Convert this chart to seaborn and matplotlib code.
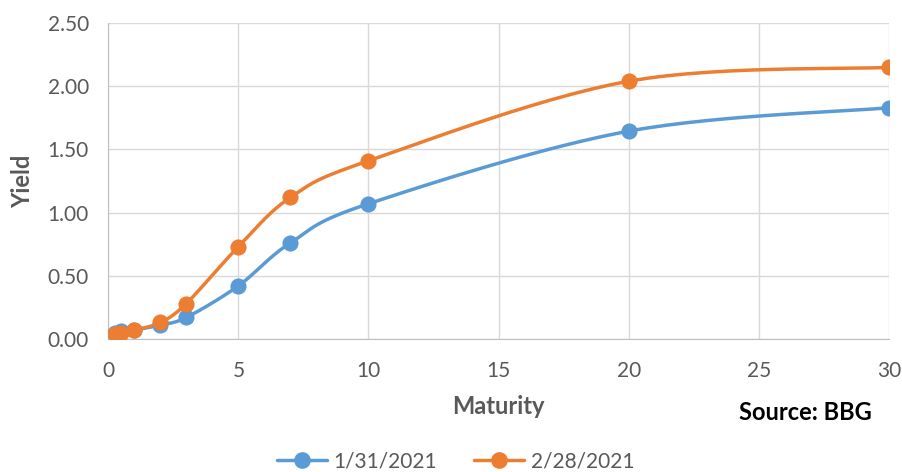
import numpy as np
import pandas as pd
import seaborn as sns
import matplotlib.pyplot as plt
from matplotlib.lines import Line2D

# Datos
maturity = [0.25, 0.5, 1, 2, 3, 5, 7, 10, 20, 30]
yield_jan = [0.05, 0.06, 0.07, 0.11, 0.17, 0.42, 0.76, 1.07, 1.645, 1.83]
yield_feb = [0.04, 0.05, 0.07, 0.13, 0.28, 0.73, 1.12, 1.41, 2.04, 2.15]
labels = ["1/31/2021", "2/28/2021"]
colors = ["#5B9BD5", "#ED7D31"]


def smooth(x, y, n=30):
    # curva suavizada tipo Excel (bezier / catmull-rom)
    p = np.column_stack([x, y]).astype(float)
    p = np.vstack([p[0], p, p[-1]])
    out = []
    t = np.linspace(0, 1, n)[:, None]
    for i in range(1, len(p) - 2):
        p0, p1 = p[i], p[i + 1]
        c1 = p0 + (p[i + 1] - p[i - 1]) / 6
        c2 = p1 - (p[i + 2] - p[i]) / 6
        seg = ((1 - t) ** 3) * p0 + 3 * ((1 - t) ** 2) * t * c1 + 3 * (1 - t) * t ** 2 * c2 + t ** 3 * p1
        out.append(seg)
    out = np.vstack(out)
    return out[:, 0], out[:, 1]


sns.set_style("white")
plt.rcParams["font.family"] = ["Lato", "DejaVu Sans"]

fig = plt.figure(figsize=(9.02, 4.72), dpi=100)
ax = fig.add_axes([0.12, 0.282, 0.8656, 0.669])

for ys, lab, c in zip([yield_jan, yield_feb], labels, colors):
    sx, sy = smooth(maturity, ys)
    sns.lineplot(x=sx, y=sy, ax=ax, color=c, linewidth=2.5, sort=False, zorder=3)
    sns.scatterplot(x=maturity, y=ys, ax=ax, color=c, s=135, edgecolor=c, linewidth=0, zorder=4)

ax.set_xlim(0, 30)
ax.set_ylim(0, 2.5)
ax.set_xticks(range(0, 31, 5))
ax.set_yticks(np.arange(0, 2.51, 0.5))
ax.set_yticklabels([f"{v:.2f}" for v in np.arange(0, 2.51, 0.5)])
ax.grid(True, color="#D9D9D9", linewidth=1)
ax.set_axisbelow(True)
for s in ["top", "right"]:
    ax.spines[s].set_visible(False)
for s in ["left", "bottom"]:
    ax.spines[s].set_color("#BFBFBF")
ax.tick_params(axis="both", length=0, labelsize=15, labelcolor="#595959")
ax.tick_params(axis="y", pad=14)
ax.tick_params(axis="x", pad=16)

ax.set_xlabel("Maturity", fontsize=17, fontweight="bold", color="#595959", labelpad=10)
ax.set_ylabel("Yield", fontsize=17, fontweight="bold", color="#595959", labelpad=10)

fig.text(0.893, 0.127, "Source: BBG", fontsize=17, fontweight="bold", color="black", ha="center", va="center")

handles = [Line2D([0], [0], color=c, linewidth=2.5, marker="o", markersize=11) for c in colors]
fig.legend(handles, labels, loc="center", bbox_to_anchor=(0.505, 0.022), ncol=2, frameon=False,
           fontsize=15, labelcolor="#595959", handlelength=2.4, columnspacing=1.8, handletextpad=0.3)

fig.savefig("out.png", dpi=100)
